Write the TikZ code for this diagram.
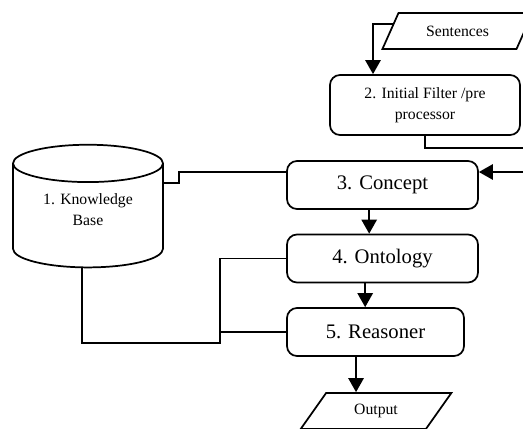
\documentclass[tikz,border=0pt]{standalone}
\usepackage{fontspec}
\setmainfont{Liberation Serif}
\usetikzlibrary{arrows.meta}
\usetikzlibrary{shapes.geometric}

\tikzset{
    link/.style={line width=1.3pt},
    stage/.style={draw, line width=1.3pt, rounded corners=7.5pt, minimum width=143.25pt, minimum height=36pt, font=\fontsize{15.5}{18}\selectfont},
    io/.style={draw, line width=1.3pt, trapezium, trapezium left angle=51, trapezium right angle=129, trapezium stretches=true, minimum width=113pt, minimum height=27pt, inner sep=0pt, font=\fontsize{11.8}{16}\selectfont},
    kbstore/.style={draw, line width=1.3pt, cylinder, shape border rotate=90, aspect=4.2, minimum width=112.5pt, minimum height=92pt},
}

\begin{document}
\begin{tikzpicture}[x=0.75pt, y=-0.75pt, >={Triangle[length=10.5pt,width=11.5pt]}]
    \useasboundingbox (0,0) rectangle (523,428);

    % input and filter
    \node[io] (sent) at (457.5,31) {Sentences};
    \node[stage, align=center, minimum width=142.5pt, minimum height=45pt, font=\fontsize{11.8}{16}\selectfont] (filt) at (425,105) {2. Initial Filter /pre\\processor};

    % main chain
    \node[stage] (conc) at (382.5,185) {3. Concept};
    \node[stage] (onto) at (382.5,258.5) {4. Ontology};
    \node[stage, minimum width=132.75pt] (reas) at (375.5,332) {5. Reasoner};
    \node[io] (out) at (376,411) {Output};

    % knowledge base
    \node[kbstore, label={[yshift=7pt, align=center, font=\fontsize{11.8}{16}\selectfont]center:1. Knowledge\\Base}] (kb) at (88,219) {};

    \draw[link, ->] (sent.174) -| ([xshift=-39pt]filt.north);
    \coordinate (rim) at (527,148);
    \draw[link, ->] (filt.south) |- (rim) |- ([yshift=9.75pt]conc.east);

    \draw[link, ->] ([xshift=-10pt]conc.south) -- ([xshift=-10pt]conc.south |- onto.north);
    \draw[link, ->] ([xshift=-13pt]onto.south) -- ([xshift=-13pt]onto.south |- reas.north);
    \draw[link, ->] ([xshift=-14.6pt]reas.south) -- ([xshift=-14.6pt]reas.south |- out.north);

    % links to the knowledge base
    \draw[link] ([yshift=27pt]kb.east) -- ++(15,0) |- ([yshift=9.75pt]conc.west);
    \coordinate (kbjoin) at (220,343);
    \draw[link] (onto.west) -| (kbjoin) -| ([xshift=-4.5pt]kb.south);
    \draw[link] (reas.west) -- (reas.west -| kbjoin);

\end{tikzpicture}
\end{document}
